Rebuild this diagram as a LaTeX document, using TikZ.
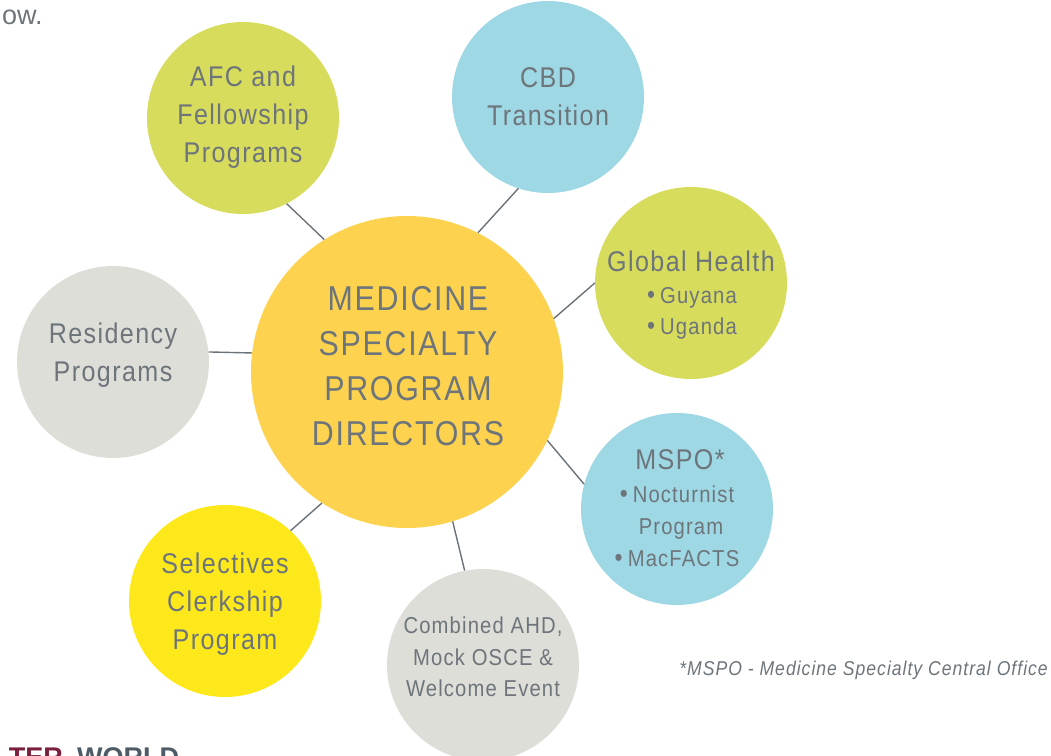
\documentclass[tikz,border=0pt]{standalone}
\usepackage{fontspec}
\setmainfont{Liberation Sans}[FakeStretch=0.88,LetterSpace=5]
\newfontfamily\plainsans{Liberation Sans}
\definecolor{lime}{HTML}{D8DC5C}
\definecolor{sky}{HTML}{9ED8E5}
\definecolor{stone}{HTML}{DEDED9}
\definecolor{gold}{HTML}{FDD24F}
\definecolor{lemon}{HTML}{FDE81B}
\definecolor{txt}{HTML}{6D757B}
\definecolor{wire}{HTML}{6B737A}
\definecolor{maroon}{HTML}{7A1F3D}
\definecolor{slate}{HTML}{4D5B66}
\newcommand\mybul{{\fontsize{26}{31}\selectfont\textbullet}\hspace{5pt}}
\begin{document}
\begin{tikzpicture}[x=1pt,y=-1pt,
  bubble/.style={circle,inner sep=0pt,minimum size=192pt},
  big/.style={circle,inner sep=0pt,minimum size=312pt},
  lbl/.style={text=txt,align=center,inner sep=0pt},
  ttl/.style={lbl,font=\fontsize{28.5}{38}\selectfont},
  sml/.style={lbl,font=\fontsize{23}{31.5}\selectfont},
  bigline/.style={lbl,anchor=base,font=\fontsize{28.5}{34}\selectfont},
  smlline/.style={lbl,anchor=base,font=\fontsize{23}{31}\selectfont},
  wireline/.style={draw=wire,line width=1.4pt}]
\clip (0,0) rectangle (1051,755);
% circles
\node[big,fill=gold] (main) at (407,372) {};
\node[bubble,fill=lime] (afc) at (243,118) {};
\node[bubble,fill=sky] (cbd) at (548,97) {};
\node[bubble,fill=lime] (gh) at (691,283) {};
\node[bubble,fill=stone] (res) at (113,362) {};
\node[bubble,fill=sky] (mspo) at (677,509) {};
\node[bubble,fill=lemon] (sel) at (225,601) {};
\node[bubble,fill=stone] (comb) at (483,665) {};
% connectors
\draw[wireline] (afc.-63) -- (main.122);
\draw[wireline] (cbd.-108) -- (main.63);
\draw[wireline] (gh.180) -- (main.20);
\draw[wireline] (res.6) -- (main.173);
\draw[wireline] (mspo.165) -- (main.-26);
\draw[wireline] (sel.47) -- (main.-123);
\draw[wireline] (comb.101) -- (main.-73);
% texts
\node[lbl,font=\fontsize{34.5}{45}\selectfont] (main-t) at (408,366) {MEDICINE\\SPECIALTY\\PROGRAM\\DIRECTORS};
\node[ttl] (afc-t) at (243,117) {AFC and\\Fellowship\\Programs};
\node[ttl] (cbd-t) at (548,97) {CBD\\Transition};
\node[bigline] (gh-t) at (691,271) {Global Health};
\node[smlline] (gh-b1) at (692,303) {\mybul Guyana};
\node[smlline] (gh-b2) at (692,334) {\mybul Uganda};
\node[ttl] (res-t) at (113,355) {Residency\\Programs};
\node[bigline] (mspo-t) at (680,469) {MSPO*};
\node[smlline] (mspo-b1) at (677,502) {\mybul Nocturnist};
\node[smlline] (mspo-b2) at (681,534) {Program};
\node[smlline] (mspo-b3) at (677,566) {\mybul MacFACTS};
\node[ttl] (sel-t) at (225,604) {Selectives\\Clerkship\\Program};
\node[sml] (comb-t) at (483,657) {Combined AHD,\\Mock OSCE \&\\Welcome Event};
% footnote and fragments
\node[text=txt,anchor=base east,inner sep=0pt,font=\fontsize{20}{22}\selectfont\itshape] (foot) at (1048,675) {*MSPO - Medicine Specialty Central Office};
\node[text=txt,anchor=base west,inner sep=0pt,font=\plainsans\fontsize{27}{30}\selectfont] (ow) at (2,24) {ow.};
\node[text=maroon,anchor=base east,inner sep=0pt,font=\plainsans\bfseries\fontsize{27}{30}\selectfont] (ter) at (63,766) {TER};
\node[text=slate,anchor=base west,inner sep=0pt,font=\plainsans\bfseries\fontsize{27}{30}\selectfont] (world) at (77,766) {WORLD};
\end{tikzpicture}
\end{document}
